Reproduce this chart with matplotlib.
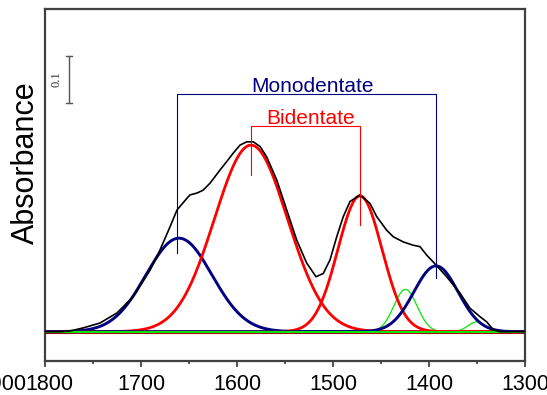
import numpy as np
import matplotlib
matplotlib.use("Agg")
import matplotlib.pyplot as plt
import matplotlib.transforms as mtransforms

plt.rcParams['font.family'] = ['Liberation Sans', 'DejaVu Sans']

# Measured spectrum (wavenumber cm-1, absorbance)
spec_wn = [1800, 1784.4, 1774.0, 1760.4, 1742.7, 1725.0, 1708.3, 1690.6, 1680.2, 1669.8,
           1662.5, 1656.3, 1652.1, 1649.0, 1641.7, 1635.4, 1628.1, 1617.7, 1610.7, 1603.9,
           1596.9, 1589.9, 1583.0, 1576.0, 1569.1, 1558.6, 1548.2, 1537.8, 1527.4, 1517.7,
           1510.1, 1503.1, 1496.1, 1489.3, 1482.3, 1471.9, 1461.5, 1454.5, 1444.1, 1437.2,
           1426.8, 1416.4, 1409.4, 1402.4, 1392.7, 1381.6, 1367.7, 1357.3, 1346.9, 1339.9,
           1333.0, 1326.0, 1300]
spec_abs = [0.000, 0.000, 0.0015, 0.008, 0.0185, 0.040, 0.074, 0.131, 0.174, 0.223,
            0.259, 0.274, 0.284, 0.291, 0.295, 0.301, 0.316, 0.344, 0.362, 0.380,
            0.397, 0.404, 0.404, 0.394, 0.372, 0.323, 0.259, 0.195, 0.146, 0.117,
            0.124, 0.153, 0.202, 0.245, 0.277, 0.291, 0.273, 0.245, 0.216, 0.202,
            0.191, 0.184, 0.181, 0.163, 0.142, 0.117, 0.082, 0.050, 0.032, 0.021,
            0.004, 0.000, 0.000]

# Fitted component peaks: center, height, width (sigma)
peak_groups = ['mono', 'bi', 'bi', 'mono', 'other', 'other']
peak_centers = [1660.4, 1585.4, 1471.9, 1392.7, 1424.5, 1350.3]
peak_heights = [0.199, 0.397, 0.289, 0.140, 0.090, 0.021]
peak_sigmas = [34.4, 38.0, 23.0, 23.0, 12.2, 9.0]

# Bracket annotations
mono_label = 'Monodentate'
mono_x = [1662.5, 1392.7]
mono_top = 0.506
mono_ends = [0.168, 0.114]
bi_label = 'Bidentate'
bi_x = [1585.4, 1471.9]
bi_top = 0.438
bi_ends = [0.333, 0.227]

xticks = [1800, 1700, 1600, 1500, 1400, 1300]
xlim = (1800, 1300)
ylim = (-0.0623, 0.6866)
scale_bar = 0.1

colors = {'mono': '#000080', 'bi': '#ff0000', 'other': '#00ee00'}
widths = {'mono': 2.1, 'bi': 2.0, 'other': 0.9}

fig = plt.figure(figsize=(5.47, 3.95), dpi=100)
ax = fig.add_axes([45/547, 34/395, 480/547, 352/395])

x = np.linspace(1300, 1800, 1001)
ax.axhline(0, color='#cc0000', lw=2.2, zorder=1)
for g, c, h, s in zip(peak_groups, peak_centers, peak_heights, peak_sigmas):
    y = h * np.exp(-0.5 * ((x - c) / s) ** 2)
    ax.plot(x, y, color=colors[g], lw=widths[g], zorder=3 if g != 'other' else 2)
ax.axhline(0, color='#00ee00', lw=1.4, zorder=3.5)
ax.plot(spec_wn, spec_abs, color='black', lw=1.2, zorder=4)

# brackets
ax.plot([mono_x[0], mono_x[0], mono_x[1], mono_x[1]],
        [mono_ends[0], mono_top, mono_top, mono_ends[1]], color='#000080', lw=0.8, zorder=5)
ax.text(1521, mono_top + 0.004, mono_label, color='#000080', fontsize=15,
        ha='center', va='baseline')
ax.plot([bi_x[0], bi_x[0], bi_x[1], bi_x[1]],
        [bi_ends[0], bi_top, bi_top, bi_ends[1]], color='#ff0000', lw=0.8, zorder=5)
ax.text(1523, bi_top + 0.003, bi_label, color='#ff0000', fontsize=15,
        ha='center', va='baseline')

# scale bar
sb_x = 1775.3
sb_y0 = 0.487
ax.plot([sb_x, sb_x], [sb_y0, sb_y0 + scale_bar], color='#555555', lw=1.0)
ax.plot([sb_x - 3, sb_x + 3], [sb_y0, sb_y0], color='#555555', lw=1.0)
ax.plot([sb_x - 3, sb_x + 3], [sb_y0 + scale_bar] * 2, color='#555555', lw=1.0)
ax.text(1788.5, sb_y0 + scale_bar / 2, '0.1', rotation=90, fontsize=9,
        family='Liberation Serif', color='#333333', ha='center', va='center')

ax.set_xlim(*xlim)
ax.set_ylim(*ylim)
ax.set_xticks(xticks)
ax.set_xticks([1750, 1650, 1550, 1450, 1350], minor=True)
ax.set_yticks([])
ax.tick_params(axis='x', which='major', direction='out', length=4, width=1.2,
               labelsize=15.5, pad=5, color='#333333')
ax.tick_params(axis='x', which='minor', direction='out', length=2.5, width=1.2,
               color='#333333')
for sp in ax.spines.values():
    sp.set_color('#404040')
    sp.set_linewidth(1.6)

# first tick label sits slightly right of its tick in the reference
fig.canvas.draw()
first = ax.get_xticklabels()[0]
first.set_transform(first.get_transform() +
                    mtransforms.ScaledTranslation(4/100, 0, fig.dpi_scale_trans))

# clipped leftover label at the far left
ax.annotate('1900', xy=(1819.5, 0), xycoords=('data', 'axes fraction'),
            xytext=(0, -9), textcoords='offset points', ha='right', va='top',
            fontsize=15.5, annotation_clip=False)

ax.set_ylabel('Absorbance', fontsize=22, va='center')
ax.yaxis.set_label_coords(-0.040, 0.5625)

fig.savefig('out.png', dpi=100)
